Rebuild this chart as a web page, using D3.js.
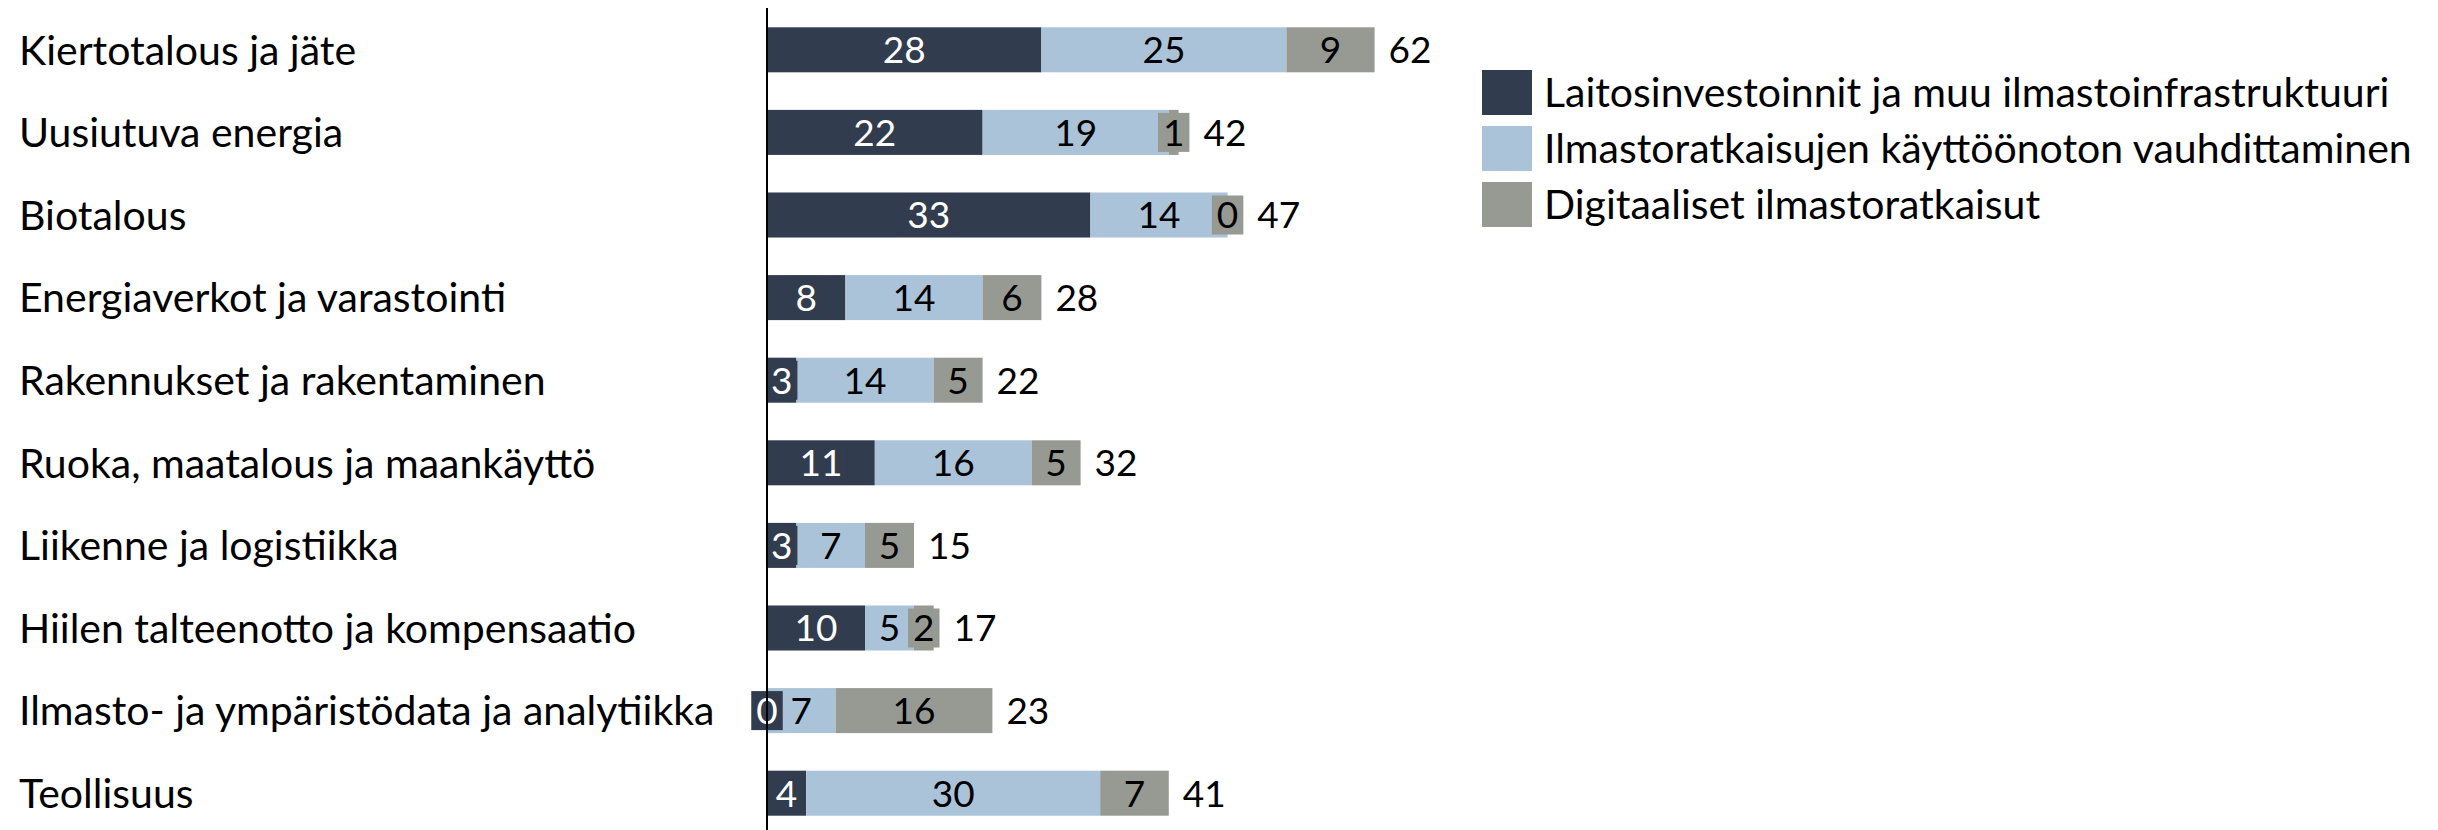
<!DOCTYPE html>
<html>
<head>
<meta charset="utf-8">
<script src="https://cdn.jsdelivr.net/npm/d3@7"></script>
<style>
  body { margin: 0; background: #fff; }
  text { font-family: "Century Gothic", Lato, sans-serif; }
</style>
</head>
<body>
<div id="chart"></div>
<script>

// categories, top to bottom
var categories = [
	'Kiertotalous ja jäte',
	'Uusiutuva energia',
	'Biotalous',
	'Energiaverkot ja varastointi',
	'Rakennukset ja rakentaminen',
	'Ruoka, maatalous ja maankäyttö',
	'Liikenne ja logistiikka',
	'Hiilen talteenotto ja kompensaatio',
	'Ilmasto- ja ympäristödata ja analytiikka',
	'Teollisuus'
];

var seriesNames = [
	'Laitosinvestoinnit ja muu ilmastoinfrastruktuuri',
	'Ilmastoratkaisujen käyttöönoton vauhdittaminen',
	'Digitaaliset ilmastoratkaisut'
];

var infra    = [28, 22, 33,  8,  3, 11, 3, 10,  0,  4];
var accel    = [25, 19, 14, 14, 14, 16, 7,  5,  7, 30];
var digital  = [ 9,  1,  0,  6,  5,  5, 5,  2, 16,  7];
var totals   = [62, 42, 47, 28, 22, 32, 15, 17, 23, 41];

var colors     = ['#323c4f', '#aac3d8', '#979a92'];
var textColors = ['#ffffff', '#000000', '#000000'];

var width = 2438, height = 830;
var fontSize = 41;     // category + legend text
var numSize = 37;      // value labels

var svg = d3.select('#chart')
			.append('svg')
			.attr('width', width)
			.attr('height', height);

var x = d3.scaleLinear()
		  .domain([0, 70])
		  .range([767, 767 + 686]);

var y = d3.scaleBand()
		  .domain(categories)
		  .range([8.5, 834.5])
		  .paddingInner(0.455)
		  .paddingOuter(0.2275);

// build stacked rows from the series arrays
var rows = categories.map(function(c, i) {
	return { cat: c, s0: infra[i], s1: accel[i], s2: digital[i], total: totals[i] };
});
var stack = d3.stack().keys(['s0', 's1', 's2']);
var layers = stack(rows);

var bh = y.bandwidth();

var layerG = svg.append('g')
				.selectAll('g')
				.data(layers)
				.enter()
				.append('g')
				.attr('fill', function(d, i) { return colors[i]; });

layerG.selectAll('rect')
	  .data(function(d) { return d; })
	  .enter()
	  .append('rect')
	  .attr('x', function(d) { return x(d[0]); })
	  .attr('y', function(d) { return y(d.data.cat); })
	  .attr('width', function(d) { return x(d[1]) - x(d[0]); })
	  .attr('height', bh);

// right edge reached by each row (bar or label box), used to place totals
var rightEdge = {};
rows.forEach(function(r) { rightEdge[r.cat] = x(r.total); });

// segment labels, each with a box in the segment colour (shows up where the segment is narrow)
layers.forEach(function(layer, li) {
	var g = svg.append('g');
	layer.forEach(function(d) {
		var cx = (x(d[0]) + x(d[1])) / 2;
		var cy = y(d.data.cat) + bh / 2;
		var lg = g.append('g');
		var box = lg.append('rect').attr('fill', colors[li]);
		var t = lg.append('text')
				  .attr('x', cx)
				  .attr('y', cy)
				  .attr('dy', '0.36em')
				  .attr('text-anchor', 'middle')
				  .attr('font-size', numSize)
				  .attr('fill', textColors[li])
				  .text(d[1] - d[0]);
		var tw = t.node().getComputedTextLength();
		box.attr('x', cx - tw / 2 - 5)
		   .attr('y', cy - bh / 2 + 3)
		   .attr('width', tw + 10)
		   .attr('height', bh - 6);
		rightEdge[d.data.cat] = Math.max(rightEdge[d.data.cat], cx + tw / 2 + 5);
	});
});

// totals
svg.append('g')
   .selectAll('text')
   .data(rows)
   .enter()
   .append('text')
   .attr('x', function(d) { return rightEdge[d.cat] + 14; })
   .attr('y', function(d) { return y(d.cat) + bh / 2; })
   .attr('dy', '0.36em')
   .attr('font-size', numSize)
   .attr('fill', '#000')
   .text(function(d) { return d.total; });

// category labels
svg.append('g')
   .selectAll('text')
   .data(categories)
   .enter()
   .append('text')
   .attr('x', 19)
   .attr('y', function(d) { return y(d) + bh / 2; })
   .attr('dy', '0.36em')
   .attr('font-size', fontSize)
   .attr('fill', '#000')
   .text(function(d) { return d; });

// vertical axis line
svg.append('line')
   .attr('x1', x(0)).attr('x2', x(0))
   .attr('y1', 8).attr('y2', height)
   .attr('stroke', '#000')
   .attr('stroke-width', 2);

// legend
var legend = svg.append('g')
				.selectAll('g')
				.data(seriesNames)
				.enter()
				.append('g')
				.attr('transform', function(d, i) { return 'translate(1482,' + (70 + i * 56) + ')'; });

legend.append('rect')
	  .attr('width', 50)
	  .attr('height', 45)
	  .attr('fill', function(d, i) { return colors[i]; });

legend.append('text')
	  .attr('x', 62)
	  .attr('y', 22.5)
	  .attr('dy', '0.36em')
	  .attr('font-size', fontSize)
	  .attr('fill', '#000')
	  .text(function(d) { return d; });

</script>
</body>
</html>
